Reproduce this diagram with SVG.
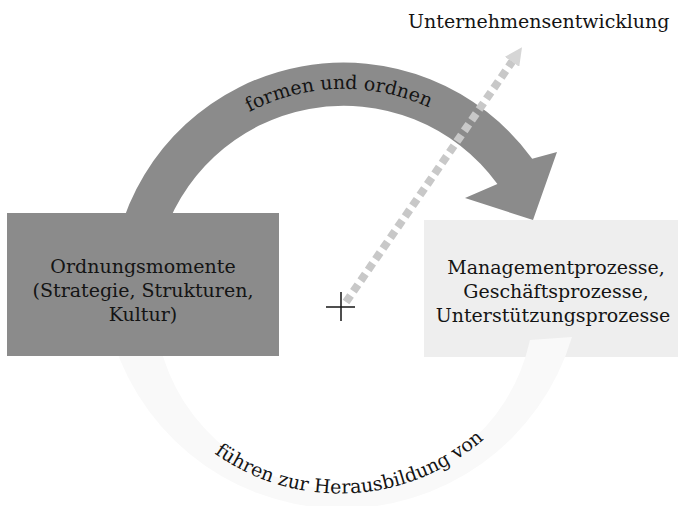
<svg xmlns="http://www.w3.org/2000/svg" width="692" height="506" viewBox="0 0 692 506">
<style>
.t{font-family:"DejaVu Serif","Liberation Serif",serif;font-size:19px;fill:#141414;}
.c{text-anchor:middle;}
</style>
<defs>
<path id="topArc" d="M 151.1 225.6 A 204 204 0 0 1 536.3 225.6"/>
<path id="botArc" d="M 136 350 A 217 217 0 0 0 551 328"/>
<marker id="dashHead" viewBox="0 0 10 10" refX="4" refY="5" markerWidth="2.2" markerHeight="2.2" orient="auto" markerUnits="strokeWidth">
<path d="M0,0 L10,5 L0,10 z" fill="#d6d6d6"/>
</marker>
</defs>
<rect width="692" height="506" fill="#ffffff"/>
<g id="node-prozesse">
<rect x="424" y="220" width="254" height="137" fill="#eeeeee"/>
<text class="t c" x="556" y="274">Managementprozesse,</text>
<text class="t c" x="556" y="298">Geschäftsprozesse,</text>
<text class="t c" x="553" y="322">Unterstützungsprozesse</text>
</g>
<g id="connectors">
<path d="M 108 322 A 240 240 0 0 0 572 337 L 530 340 A 190 190 0 0 1 156 325 Z" fill="#f9f9f9"/>
<path d="M 118.6 235 A 233 233 0 0 1 532.2 158.7 L 557 152 L 533 220 L 465 198 L 497.4 184 A 190 190 0 0 0 160.2 246.5 Z" fill="#8b8b8b"/>
<line x1="346" y1="302" x2="516" y2="56" stroke="#c8c8c8" stroke-width="8" stroke-dasharray="8 5" marker-end="url(#dashHead)"/>
<text class="t"><textPath href="#topArc" startOffset="49%" text-anchor="middle">formen und ordnen</textPath></text>
<text class="t" font-size="19.5"><textPath href="#botArc" startOffset="50%" text-anchor="middle">führen zur Herausbildung von</textPath></text>
<g id="cross" stroke="#141414" stroke-width="1.5">
<line x1="326" y1="307" x2="355" y2="307"/>
<line x1="341" y1="292" x2="341" y2="321"/>
</g>
</g>
<g id="node-ordnung">
<rect x="7" y="213" width="272" height="143" fill="#8b8b8b"/>
<text class="t c" x="143" y="273">Ordnungsmomente</text>
<text class="t c" x="143" y="297">(Strategie, Strukturen,</text>
<text class="t c" x="143" y="321">Kultur)</text>
</g>
<g id="node-unternehmen">
<text class="t" x="408" y="28" font-size="18.5">Unternehmensentwicklung</text>
</g>
</svg>
